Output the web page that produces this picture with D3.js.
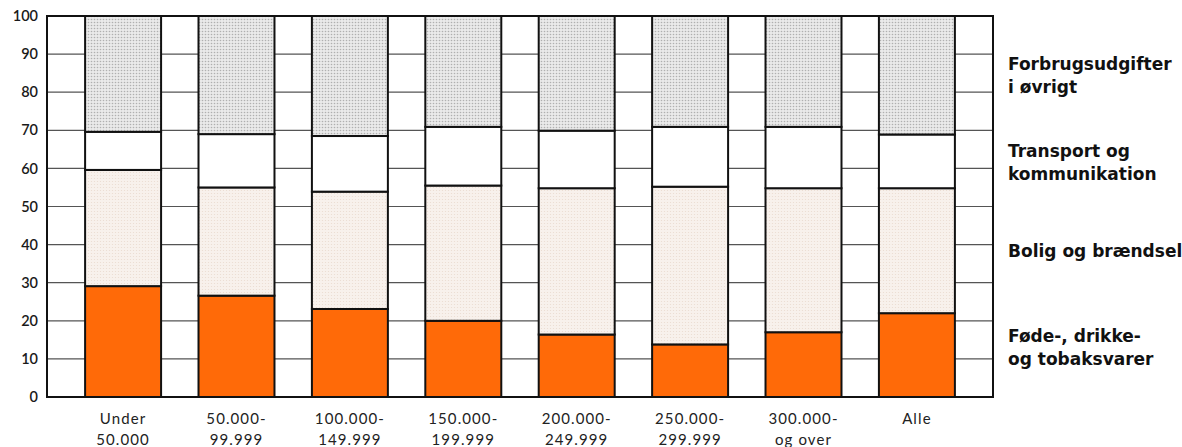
<!DOCTYPE html>
<html><head><meta charset="utf-8">
<script src="https://cdn.jsdelivr.net/npm/d3@7"></script>
<style>body{margin:0;background:#fff;} svg{display:block;}</style>
</head><body>
<svg id="c" width="1182" height="447"></svg>
<script>
const categories = [["Under","50.000"],["50.000-","99.999"],["100.000-","149.999"],["150.000-","199.999"],["200.000-","249.999"],["250.000-","299.999"],["300.000-","og over"],["Alle"]];
const food = [29.1, 26.6, 23.1, 20.0, 16.4, 13.8, 17.0, 22.0];
const housing = [30.5, 28.4, 30.8, 35.5, 38.4, 41.4, 37.8, 32.8];
const transport = [10.0, 14.0, 14.6, 15.4, 15.1, 15.7, 16.1, 14.1];
const other = [30.4, 31.0, 31.5, 29.1, 30.1, 29.1, 29.1, 31.1];
const yTicks = [0,10,20,30,40,50,60,70,80,90,100];
const seriesNames = [["Forbrugsudgifter","i øvrigt"],["Transport og","kommunikation"],["Bolig og brændsel"],["Føde-, drikke-","og tobaksvarer"]];

const svg = d3.select("#c");
const L=47, R=993, T=16, B=397;
const x = d3.scaleBand().domain(d3.range(categories.length)).range([L,R]).paddingInner(0.33).paddingOuter(0.336);
const y = d3.scaleLinear().domain([0,100]).range([B,T]);

const defs = svg.append("defs");
const pg = defs.append("pattern").attr("id","grayDots").attr("width",3).attr("height",3).attr("patternUnits","userSpaceOnUse");
pg.append("rect").attr("width",3).attr("height",3).attr("fill","#eaeaea");
pg.append("circle").attr("cx",1.5).attr("cy",1.5).attr("r",0.8).attr("fill","#b0b0b0");
const pb = defs.append("pattern").attr("id","pinkDots").attr("width",3).attr("height",3).attr("patternUnits","userSpaceOnUse");
pb.append("rect").attr("width",3).attr("height",3).attr("fill","#f8f1ec");
pb.append("circle").attr("cx",1.5).attr("cy",1.5).attr("r",0.6).attr("fill","#eadbd0");

// grid
svg.append("g").selectAll("line").data(yTicks.slice(1,-1)).join("line")
  .attr("x1",L).attr("x2",R).attr("y1",d=>y(d)).attr("y2",d=>y(d))
  .attr("stroke","#555").attr("stroke-width",1.2);

// y axis labels
const yAxis = d3.axisLeft(y).tickValues(yTicks).tickSize(0).tickPadding(9);
const ga = svg.append("g").attr("transform",`translate(${L},0)`).call(yAxis);
ga.select(".domain").remove();
ga.selectAll("text").attr("font-family","Lato, 'Open Sans', sans-serif").attr("font-size",14.5).attr("fill","#1a1a1a").attr("font-weight","600");

// stacked bars
const rows = categories.map((c,i)=>({i, food:food[i], housing:housing[i], transport:transport[i], other:other[i]}));
const keys = ["food","housing","transport","other"];
const fills = {food:"#ff6a08", housing:"url(#pinkDots)", transport:"#ffffff", other:"url(#grayDots)"};
const stack = d3.stack().keys(keys)(rows);
svg.append("g").selectAll("g").data(stack).join("g").attr("fill",d=>fills[d.key])
  .selectAll("rect").data(d=>d).join("rect")
  .attr("x",d=>x(d.data.i)).attr("width",x.bandwidth())
  .attr("y",d=>y(Math.min(d[1],100))).attr("height",d=>y(d[0])-y(Math.min(d[1],100)))
  .attr("stroke","#111").attr("stroke-width",2);

// frame
svg.append("rect").attr("x",L).attr("y",T).attr("width",R-L).attr("height",B-T)
  .attr("fill","none").attr("stroke","#111").attr("stroke-width",2);

// x labels
const xl = svg.append("g").selectAll("text").data(categories).join("text")
  .attr("x",(d,i)=>x(i)+x.bandwidth()/2).attr("y",423.5)
  .attr("text-anchor","middle").attr("font-family","Lato, 'Open Sans', sans-serif")
  .attr("font-size",15).attr("fill","#222").attr("letter-spacing","1.1");
xl.each(function(d){
  const t=d3.select(this);
  d.forEach((s,k)=>t.append("tspan").attr("x",t.attr("x")).attr("dy",k?21:0).text(s));
});

// legend
const legY = [[70,93],[157,180],[257],[342,365]];
seriesNames.forEach((lines,j)=>{
  const t = svg.append("text").attr("font-family","'DejaVu Sans', sans-serif").attr("font-weight","bold")
    .attr("font-size",17).attr("fill","#111");
  lines.forEach((s,k)=>t.append("tspan").attr("x",1008).attr("y",legY[j][k]).text(s));
});
</script>
</body></html>
